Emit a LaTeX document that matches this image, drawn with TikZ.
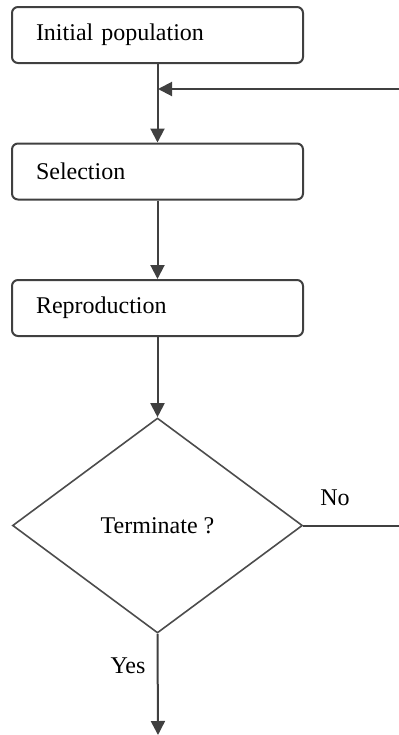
\documentclass[tikz,border=0pt]{standalone}
\usepackage{fontspec}
\setmainfont{Liberation Serif}
\usetikzlibrary{
  shapes,
  shapes.geometric,
  arrows.meta,
  calc,
}

\begin{document}
\begin{tikzpicture}[x=0.5pt,y=-0.5pt,
    stepbox/.style={draw=black!75,line width=1pt,rounded corners=3pt,
        minimum width=145.5pt,minimum height=28pt,inner xsep=12pt,inner ysep=0pt,
        text width=121.5pt,align=left,font=\fontsize{12}{14}\selectfont},
    decide/.style={diamond,draw=black!70,line width=0.8pt,inner sep=0pt,
        minimum width=145pt,minimum height=107.5pt,font=\fontsize{12}{14}\selectfont},
    flow/.style={draw=black!75,line width=1pt,-{Triangle[length=7pt,width=7pt]}},
    wire/.style={draw=black!75,line width=1pt},
    lbl/.style={font=\fontsize{12}{14}\selectfont,inner sep=0pt},
  ]
  \useasboundingbox (0,0) rectangle (399,735);

  \foreach \name/\txt/\y in {init/Initial population/35,sel/Selection/171.5,rep/Reproduction/308}{
      \node[stepbox] (\name) at (157.5,\y) {\txt};
    }
  \node[decide] (term) at (157.5,525.5) {Terminate ?};

  \coordinate (merge) at (158,89);
  \coordinate (back) at (399,89);
  \coordinate (noend) at (399,525.5);
  \coordinate (done) at (158,735);

  \draw[flow] (init) -- (sel);
  \draw[flow] (back) -- (merge);
  \draw[flow] (sel) -- (rep);
  \draw[flow] (rep) -- (term);
  \draw[wire] (term.east) -- (noend);
  \draw[flow] (term.south) -- (done);

  \node[lbl] (no) at (335,498) {No};
  \node[lbl] (yes) at (128,666) {Yes};
\end{tikzpicture}
\end{document}
